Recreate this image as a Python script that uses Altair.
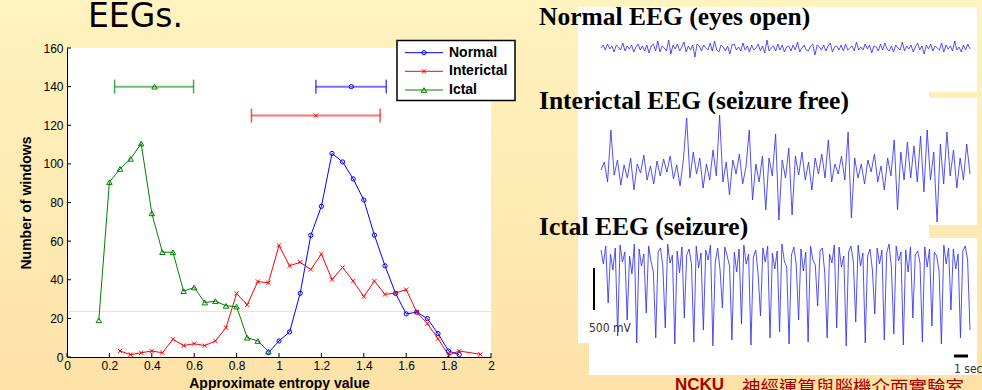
import altair as alt
import pandas as pd

# ---------------- data ----------------
series_names = ["Normal", "Interictal", "Ictal"]
series_colors = ["#0000FF", "#FF0000", "#008000"]
series_shapes = ["circle", "M-1,-1L1,1M-1,1L1,-1", "triangle-up"]
series_sizes = [18, 18, 30]

normal_x = [0.95, 1.0, 1.05, 1.1, 1.15, 1.2, 1.25, 1.3, 1.35, 1.4, 1.45, 1.5,
            1.55, 1.6, 1.65, 1.7, 1.75, 1.8, 1.85]
normal_y = [2.2, 8.3, 13, 33, 63, 78, 105.4, 101, 92.2, 81.3, 63.1, 47.2,
            32.9, 22.3, 23.2, 19.9, 12.1, 3.1, 1.2]

inter_x = [0.25, 0.3, 0.35, 0.4, 0.45, 0.5, 0.55, 0.6, 0.65, 0.7, 0.75, 0.8,
           0.85, 0.9, 0.95, 1.0, 1.05, 1.1, 1.15, 1.2, 1.25, 1.3, 1.35, 1.4,
           1.45, 1.5, 1.55, 1.6, 1.65, 1.7, 1.75, 1.8, 1.85, 1.95]
inter_y = [3.1, 1.2, 2.2, 3.1, 2.2, 9.2, 5.9, 6.9, 5.9, 8.3, 15.2, 32.9,
           27, 39.1, 38.4, 57.8, 47.2, 49.1, 45.3, 53.3, 40.1, 46.4, 39.3, 31.3,
           39.3, 32.4, 33.2, 34.9, 23.2, 17.3, 9.5, 0.9, 3.1, 1.4]

ictal_x = [0.15, 0.2, 0.25, 0.3, 0.35, 0.4, 0.45, 0.5, 0.55, 0.6, 0.65, 0.7,
           0.75, 0.8, 0.85, 0.9, 0.95]
ictal_y = [19, 90.5, 97.4, 102.6, 110.5, 74.4, 54.3, 54.2, 34.1, 36, 28.2, 28.9,
           26.5, 26.1, 10, 8.3, 2.9]

eb_series = ["Normal", "Interictal", "Ictal"]
eb_center = [1.341, 1.174, 0.413]
eb_low = [1.174, 0.870, 0.2245]
eb_high = [1.506, 1.477, 0.597]
eb_level = [140, 125, 140]

x_ticks = [0, 0.2, 0.4, 0.6, 0.8, 1, 1.2, 1.4, 1.6, 1.8, 2]
y_ticks = [0, 20, 40, 60, 80, 100, 120, 140, 160]
faint_line_level = [23.6]

# EEG amplitudes (pixel-ish units)
normal_eeg = [0, 3, -2, 4, -1, 2, -4, 3, 1, -2, 5, -3, 2, -1, 3, -4, 1, 4, -2, 2, -3, 3, -5, 2, 4, -3, 7, -4, 2, 0,
              -3, 8, -6, 3, -1, 4, -3, 1, 6, -4, 2, -2, 3, -9, 4, 2, -3, 3, 0, -2, 5, -3, 7, -2, -4, 3, 1, -3, 2, -6,
              3, 4, -2, 1, -3, 5, -2, 2, -4, 3, -2, 0, 4, -3, 2, -5, 8, -3, 0, 2, -3, 4, -2, 3, -4, 1, 2, -3, 3, -2,
              6, -4, 0, 3, -2, -3, 2, 4, -7, 3, 1, -2, 3, -3, 2, 5, -4, 1, 2, -2, 3, -3, 4, -2, 0, 2, -3, 6, -2, 1,
              -2, 4, -1, 3, -5, 2, 1, -3, 4, -2, 5, -1, -3, 2, -4, 3, 0, -2, 6, -3, 2, -1, 3, -4, 1, 5, -2, 2, -6, 3,
              -1, 4, -3, 2, 0, -2, 5, -4, 3, -1, 2, -3, 7, -2, 1, -4, 3, -2, 4, -1]
inter_eeg = [0, 8, -12, 40, -5, 10, -15, 5, -8, 12, -20, 6, -3, 15, -10, 4, -14, 9,
             -6, 11, -2, 14, -9, 5, -16, 10, 52, -8, 18, -4, 12, -18, 6, -10, 20, -6,
             55, -12, 8, -25, 10, -4, 16, -14, 3, 40, -30, 6, -12, 14, -40, 12, -6, 36,
             -50, 10, -8, 22, -45, 14, -5, 18, -10, 8, -20, 12, -4, 16, -8, 30, -12, 6,
             -4, 14, -10, 38, -48, 12, -8, 6, -14, 10, -2, 16, -12, 4, -20, 12, -6, 30,
             -40, 18, -10, 28, -8, 24, -12, 34, -22, 40, -10, 18, -52, 26, -14, 38, -6,
             20, -18, 12, -10, 26, -4]
ictal_eeg = [8, -6, 12, -45, 4, -12, 10, -78, 13, -4, 6, -62, 2, -16, 14, -85,
             9, -8, 4, -55, 12, -3, -14, -80, 6, 10, -9, -70, 14, -5, 3, -86,
             7, -15, 11, -60, 3, 9, -6, -84, 12, -10, 5, -72, 8, -2, 13, -88,
             -4, 10, -12, -50, 11, 2, -8, -82, 6, -14, 9, -66, 13, -6, 4, -87,
             1, 8, -16, -58, 10, -4, 12, -80, 5, -11, 7, -74, 14, -3, -9, -86,
             3, 11, -6, -62, 9, -13, 6, -84, 12, -2, -7, -48, 7, 10, -15, -80,
             4, -5, 13, -70, 11, -9, 2, -88, 6, 12, -4, -64, 13, -8, 5, -85,
             2, 9, -12, -56, 10, -6, 8, -82, 5, 14, -10, -76, 12, -3, 6, -87,
             8, -14, 11, -60, 3, 7, -5, -84, 11, -9, 9, -68, 6, 2, -13, -86,
             13, -6, 10, -52, 9, -11, 4, -80, 7, 12, -2, -72]

# ---------------- layout ----------------
CW, CH = 982, 390
L, T = 67, 48
W, H = 424, 309


def px(x):
    return x - L


def py(y):
    return y - T


def mix(c1, c2, t):
    a = [int(c1[i:i + 2], 16) for i in (1, 3, 5)]
    b = [int(c2[i:i + 2], 16) for i in (1, 3, 5)]
    return "#" + "".join("%02x" % round(a[k] + (b[k] - a[k]) * t) for k in range(3))


BG_TOP, BG_BOT = "#FFF3BF", "#FDE2A8"

rows = []
for s, xs, ys in [("Normal", normal_x, normal_y), ("Interictal", inter_x, inter_y),
                  ("Ictal", ictal_x, ictal_y)]:
    for a, b in zip(xs, ys):
        rows.append({"series": s, "x": a, "y": b})
df = pd.DataFrame(rows)
eb_df = pd.DataFrame({"series": eb_series, "c": eb_center, "lo": eb_low,
                      "hi": eb_high, "lev": eb_level})
one = pd.DataFrame({"k": [0]})

color_scale = alt.Scale(domain=series_names, range=series_colors)
x_scale = alt.Scale(domain=[0, 2], nice=False, zero=False)
y_scale = alt.Scale(domain=[0, 160], nice=False)
x_axis = alt.Axis(values=x_ticks, format="~g", title="Approximate entropy value",
                  ticks=False, grid=False, labelPadding=3, titlePadding=5, zindex=1,
                  labelFlush=False)
y_axis = alt.Axis(values=y_ticks, title="Number of windows", ticks=False, grid=False,
                  labelPadding=4, titlePadding=9, zindex=1)


def X(f):
    return alt.X(f, type="quantitative", scale=x_scale, axis=x_axis)


def Y(f):
    return alt.Y(f, type="quantitative", scale=y_scale, axis=y_axis)


COL = alt.Color("series:N", scale=color_scale, legend=None)

layers = []

# background gradient of the slide
grad = alt.LinearGradient(gradient="linear",
                          stops=[alt.GradientStop(color=BG_TOP, offset=0),
                                 alt.GradientStop(color=BG_BOT, offset=1)],
                          x1=0, x2=0, y1=0, y2=1)
layers.append(alt.Chart(one).mark_rect(color=grad).encode(
    x=alt.value(px(0)), x2=alt.value(px(CW)), y=alt.value(py(0)), y2=alt.value(py(CH))))


def rect(x0, y0, x1, y1, color):
    return alt.Chart(one).mark_rect(color=color).encode(
        x=alt.value(px(x0)), x2=alt.value(px(x1)), y=alt.value(py(y0)), y2=alt.value(py(y1)))


layers.append(rect(L, T, L + W, T + H, "#FFFFFF"))
layers.append(rect(578, 7, 977, 343, "#FFFFFF"))
layers.append(rect(929, 92, 977, 98, mix(BG_TOP, BG_BOT, 95 / CH)))
layers.append(rect(929, 225, 977, 238, mix(BG_TOP, BG_BOT, 231 / CH)))
layers.append(rect(589, 238, 977, 375, "#FFFFFF"))

# faint line artifact
layers.append(alt.Chart(pd.DataFrame({"v": faint_line_level})).mark_rule(
    color="#F2E2B2", strokeWidth=1).encode(y=Y("v"), x=alt.value(0), x2=alt.value(W)))

# inside ticks
layers.append(alt.Chart(pd.DataFrame({"v": x_ticks})).mark_rule(color="black").encode(
    x=X("v"), y=alt.value(H), y2=alt.value(H - 4)))
layers.append(alt.Chart(pd.DataFrame({"v": y_ticks})).mark_rule(color="black").encode(
    y=Y("v"), x=alt.value(0), x2=alt.value(4)))

# series lines
layers.append(alt.Chart(df).mark_line(strokeWidth=1).encode(
    x=X("x"), y=Y("y"), color=COL, detail="series:N"))
for s, sh, sz in zip(series_names, series_shapes, series_sizes):
    layers.append(alt.Chart(df).transform_filter(alt.datum.series == s).mark_point(
        shape=sh, filled=False, size=sz, strokeWidth=1, opacity=1).encode(
        x=X("x"), y=Y("y"), color=COL))

# error bars
layers.append(alt.Chart(eb_df).mark_rule(strokeWidth=2, opacity=0.55).encode(
    x=X("lo"), x2="hi", y=Y("lev"), color=COL))
for f in ["lo", "hi"]:
    layers.append(alt.Chart(eb_df).mark_tick(orient="vertical", size=14, thickness=1.5).encode(
        x=X(f), y=Y("lev"), color=COL))
for s, sh, sz in zip(series_names, series_shapes, series_sizes):
    layers.append(alt.Chart(eb_df).transform_filter(alt.datum.series == s).mark_point(
        shape=sh, filled=False, size=sz, strokeWidth=1, opacity=1).encode(
        x=X("c"), y=Y("lev"), color=COL))

# legend
layers.append(alt.Chart(one).mark_rect(fill="white", stroke="black", strokeWidth=1.5).encode(
    x=alt.value(px(397)), x2=alt.value(px(515)), y=alt.value(py(40.5)), y2=alt.value(py(100.5))))
for i, (s, sh, sz) in enumerate(zip(series_names, series_shapes, series_sizes)):
    ly = py([52.7, 71.3, 90][i])
    d = pd.DataFrame({"series": [s]})
    layers.append(alt.Chart(d).mark_rule(strokeWidth=1).encode(
        x=alt.value(px(405)), x2=alt.value(px(443)), y=alt.value(ly), color=COL))
    layers.append(alt.Chart(d).mark_point(shape=sh, filled=False, size=sz, strokeWidth=1,
                                          opacity=1).encode(
        x=alt.value(px(424)), y=alt.value(ly), color=COL))
    layers.append(alt.Chart(d).mark_text(align="left", baseline="middle", fontSize=14,
                                         fontWeight="bold", font="Liberation Sans",
                                         color="black").encode(
        x=alt.value(px(449)), y=alt.value(ly), text="series:N"))


def label(txt, x, y, size, font, weight="normal", color="black", align="left",
          baseline="alphabetic"):
    return alt.Chart(one).mark_text(text=txt, align=align, baseline=baseline,
                                    fontSize=size, font=font, fontWeight=weight,
                                    color=color).encode(
        x=alt.value(px(x)), y=alt.value(py(y)))


layers.append(label("EEGs.", 88, 27, 33, "DejaVu Sans"))
layers.append(label("Normal EEG (eyes open)", 539, 25, 25.5, "Liberation Serif", "bold"))
layers.append(label("Interictal EEG (seizure free)", 539, 109, 25.5, "Liberation Serif", "bold"))
layers.append(label("Ictal EEG (seizure)", 539, 235, 25.5, "Liberation Serif", "bold"))
layers.append(label("500 mV", 589, 332, 12, "DejaVu Sans Condensed, Liberation Sans",
                    color="#333333"))
layers.append(label("1 sec", 954, 373, 12, "DejaVu Sans Condensed, Liberation Sans",
                    color="#333333"))
layers.append(label("NCKU", 675, 390, 17, "Liberation Sans", "bold", "#A50000"))
layers.append(label("神經運算與腦機介面實驗室", 742, 394, 18.5, "Noto Sans CJK TC",
                    color="#A50000"))
layers.append(alt.Chart(one).mark_rule(color="black", strokeWidth=2).encode(
    x=alt.value(px(594)), y=alt.value(py(268)), y2=alt.value(py(310))))
layers.append(alt.Chart(one).mark_rule(color="black", strokeWidth=3).encode(
    x=alt.value(px(954)), x2=alt.value(px(968)), y=alt.value(py(356))))

main = alt.layer(*layers)


# EEG traces, each with its own scales
def trace(vals, base):
    n = len(vals)
    d = pd.DataFrame({"i": list(range(n)), "v": vals})
    return alt.Chart(d).mark_line(color="#3333EE", strokeWidth=1, opacity=0.85).encode(
        x=alt.X("i:Q", scale=alt.Scale(domain=[0, n - 1], range=[px(601), px(970)], nice=False,
                                       zero=False), axis=None),
        y=alt.Y("v:Q", scale=alt.Scale(domain=[-100, 100], range=[py(base) + 100, py(base) - 100],
                                       nice=False, zero=False), axis=None))


eeg = alt.layer(trace(normal_eeg, 48), trace(inter_eeg, 170), trace(ictal_eeg, 258)).resolve_scale(
    x="independent", y="independent")

chart = alt.layer(main, eeg).resolve_scale(x="independent", y="independent").properties(
    width=W, height=H,
    padding={"left": L, "top": T, "right": CW - L - W, "bottom": CH - T - H},
    autosize=alt.AutoSizeParams(type="none"),
    background=BG_TOP,
).configure_view(stroke=None).configure_axis(
    domainColor="black", domainWidth=1, labelColor="black", labelFont="Liberation Sans",
    labelFontSize=12, titleColor="black", titleFont="Liberation Sans", titleFontSize=14,
    titleFontWeight="bold",
)

chart.save("out.html", embed_options={"renderer": "svg", "actions": False})
